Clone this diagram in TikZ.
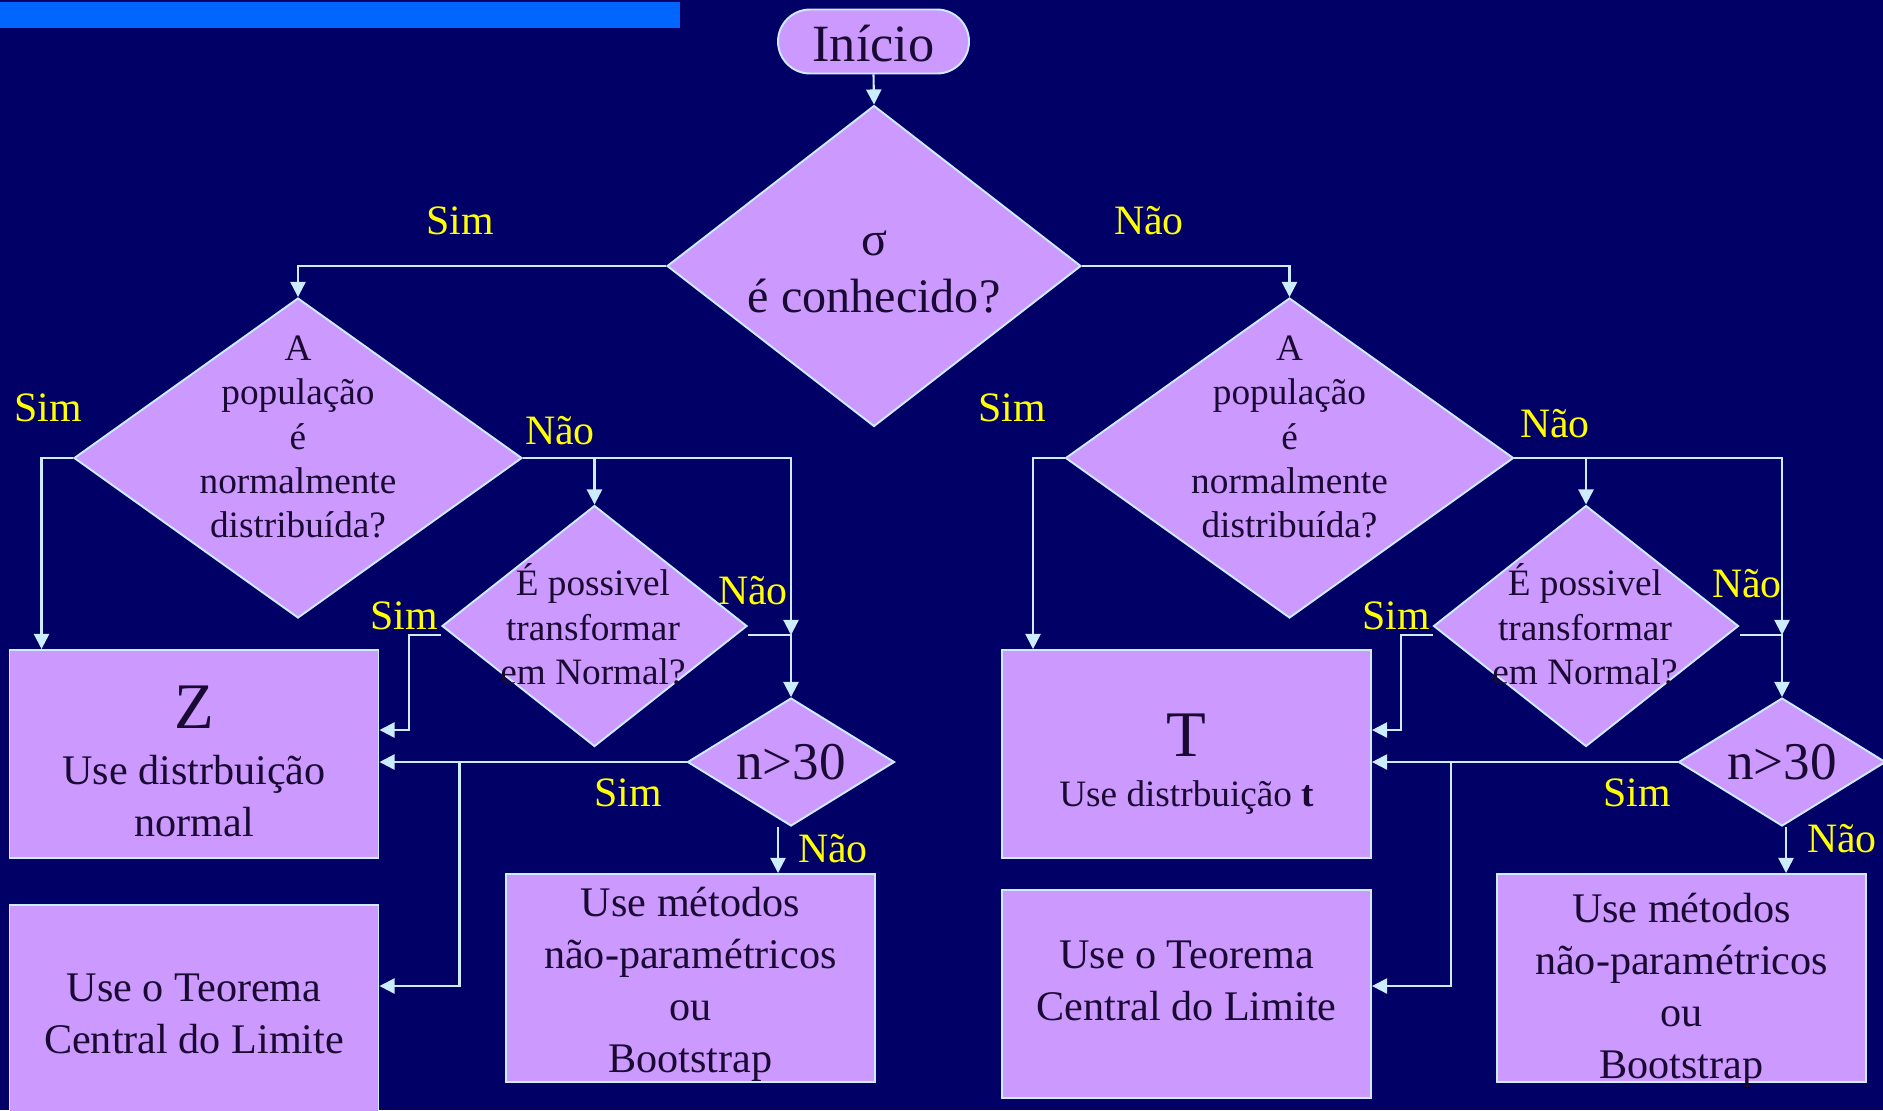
\documentclass[tikz,border=0pt]{standalone}
\usepackage{fontspec}
\setmainfont{Liberation Serif}
\usetikzlibrary{arrows.meta,calc,shapes.geometric}

\definecolor{navy}{HTML}{000066}
\definecolor{barblue}{HTML}{0066FF}
\definecolor{lilac}{HTML}{CC99FF}
\definecolor{edge}{HTML}{CCECFF}
\definecolor{ink}{HTML}{1A0A33}
\definecolor{answer}{HTML}{FFFF00}

\begin{document}
\begin{tikzpicture}[
    shapebox/.style={draw=edge, line width=0.55pt, fill=lilac, text=ink},
    decision/.style={shapebox, diamond, inner sep=0pt},
    outcome/.style={shapebox, rectangle, inner sep=0pt, align=center,
        minimum width=3.69cm, minimum height=2.08cm, font=\fontsize{12}{14.8}\selectfont},
    question/.style={text=ink, align=center, font=\fontsize{10.6}{12.6}\selectfont},
    yesno/.style={text=answer, font=\fontsize{11.9}{14}\selectfont},
    flow/.style={draw=edge, line width=0.6pt, -{Triangle[length=4.3pt,width=4.3pt]}}
]
    % the slide
    \useasboundingbox (0,0) rectangle (18.83,-11.10);
    \clip (0,0) rectangle (18.83,-11.10);
    \fill[navy] (0,0) rectangle (18.83,-11.10);
    \fill[barblue] (0,-0.02) rectangle (6.80,-0.28);

    % start and the first question
    \node[shapebox, rectangle, rounded corners=3.2mm, inner sep=0pt, minimum width=1.91cm,
        minimum height=0.64cm, font=\fontsize{14.9}{17}\selectfont] (start) at (8.735,-0.415) {\rule{0pt}{11.5pt}Início};
    \node[decision, minimum width=4.14cm, minimum height=3.21cm] (sigma) at (8.74,-2.66) {};
    \node[question, font=\fontsize{13.7}{16}\selectfont] (sigmatxt) at (8.74,-2.72) {σ\\é conhecido?};

    % sigma known: the Z side
    \node[decision, minimum width=4.48cm, minimum height=3.2cm] (popZ) at (2.98,-4.58) {};
    \node[question] (popZtxt) at (2.98,-4.37) {A\\população\\é\\normalmente\\distribuída?};
    \node[decision, minimum width=3.05cm, minimum height=2.41cm] (transfZ) at (5.945,-6.26) {};
    \node[question] (transfZtxt) at (5.93,-6.245) {É possivel\\transformar\\em Normal?};
    \node[decision, shape aspect=1.6, minimum width=2.07cm, minimum height=1.28cm,
        font=\fontsize{15.1}{18}\selectfont] (nZ) at (7.91,-7.62) {n>30};

    \node[outcome] (distZ) at (1.94,-7.54) {{\fontsize{18.5}{22}\selectfont\rule{0pt}{16.3pt}Z}\\[1pt]Use distrbuição\\normal};
    \node[outcome, minimum height=2.10cm] (tclZ) at (1.94,-10.10) {\rule{0pt}{10.3pt}Use o Teorema\\Central do Limite};
    \node[outcome] (bootZ) at (6.905,-9.78) {\rule{0pt}{12pt}Use métodos\\não-paramétricos\\ou\\Bootstrap};

    % sigma unknown: the T side
    \node[decision, minimum width=4.48cm, minimum height=3.2cm] (popT) at (12.895,-4.58) {};
    \node[question] (popTtxt) at (12.895,-4.37) {A\\população\\é\\normalmente\\distribuída?};
    \node[decision, minimum width=3.05cm, minimum height=2.41cm] (transfT) at (15.86,-6.26) {};
    \node[question] (transfTtxt) at (15.85,-6.245) {É possivel\\transformar\\em Normal?};
    \node[decision, shape aspect=1.6, minimum width=2.07cm, minimum height=1.28cm,
        font=\fontsize{15.1}{18}\selectfont] (nT) at (17.82,-7.62) {n>30};

    \node[outcome, text depth=0pt] (distT) at (11.865,-7.54) {{\fontsize{18.5}{22}\selectfont\rule{0pt}{15.4pt}T}\\[-0.6pt]{\fontsize{10.6}{13}\selectfont Use distrbuição \textbf{t}}};
    \node[outcome, text depth=2.6mm] (tclT) at (11.865,-9.94) {Use o Teorema\\Central do Limite};
    \node[outcome, text depth=0pt] (bootT) at (16.815,-9.78) {\rule{0pt}{12.6pt}Use métodos\\não-paramétricos\\ou\\Bootstrap};

    % where the two "Não" lines meet
    \coordinate (jZ) at ($(transfZ.east -| nZ.north)+(0,-0.09)$);
    \coordinate (jT) at ($(transfT.east -| nT.north)+(0,-0.09)$);

    % draw the arrows
    \draw[flow] (start.south) -- (sigma.north);
    \draw[flow] (sigma.west) -| (popZ.north);
    \draw[flow] (sigma.east) -| (popT.north);

    \draw[flow] (popZ.west) -| ([xshift=3.3mm]distZ.north west);
    \draw[flow] (popZ.east) -| (jZ);
    \draw[flow] (popZ.east -| transfZ.north) -- (transfZ.north);
    \draw[flow] ([yshift=-0.9mm]transfZ.east) -| (nZ.north);
    \draw[flow] ([yshift=-0.9mm]transfZ.west) -- ++(-0.32,0) |- ([yshift=2.4mm]distZ.east);
    \draw[flow] (nZ.west) -- (nZ.west -| distZ.east);
    \draw[flow] ($(nZ.west -| distZ.east)+(0.8,0)$) |- ([yshift=2.4mm]tclZ.east);
    \draw[flow] ([xshift=-1.3mm]nZ.south) -- ([xshift=-1.3mm]nZ.south |- bootZ.north);

    \draw[flow] (popT.west) -| ([xshift=3.2mm]distT.north west);
    \draw[flow] (popT.east) -| (jT);
    \draw[flow] (popT.east -| transfT.north) -- (transfT.north);
    \draw[flow] ([yshift=-0.9mm]transfT.east) -| (nT.north);
    \draw[flow] ([yshift=-0.9mm]transfT.west) -- ++(-0.32,0) |- ([yshift=2.4mm]distT.east);
    \draw[flow] (nT.west) -- (nT.west -| distT.east);
    \draw[flow] ($(nT.west -| distT.east)+(0.79,0)$) |- ([yshift=0.8mm]tclT.east);
    \draw[flow] ([xshift=0.4mm]nT.south) -- ([xshift=0.4mm]nT.south |- bootT.north);

    % the answers
    \node[yesno] (s0) at (4.60,-2.21) {Sim};
    \node[yesno] (n0) at (11.49,-2.21) {Não};
    \node[yesno] (s1) at (0.48,-4.08) {Sim};
    \node[yesno] (n1) at (5.60,-4.31) {Não};
    \node[yesno] (s2) at (4.04,-6.16) {Sim};
    \node[yesno] (n2) at (7.53,-5.91) {Não};
    \node[yesno] (s3) at (6.28,-7.93) {Sim};
    \node[yesno] (n3) at (8.33,-8.49) {Não};
    \node[yesno] (s4) at (10.12,-4.08) {Sim};
    \node[yesno] (n4) at (15.55,-4.24) {Não};
    \node[yesno] (s5) at (13.96,-6.16) {Sim};
    \node[yesno] (n5) at (17.47,-5.84) {Não};
    \node[yesno] (s6) at (16.37,-7.93) {Sim};
    \node[yesno] (n6) at (18.42,-8.39) {Não};
\end{tikzpicture}
\end{document}
